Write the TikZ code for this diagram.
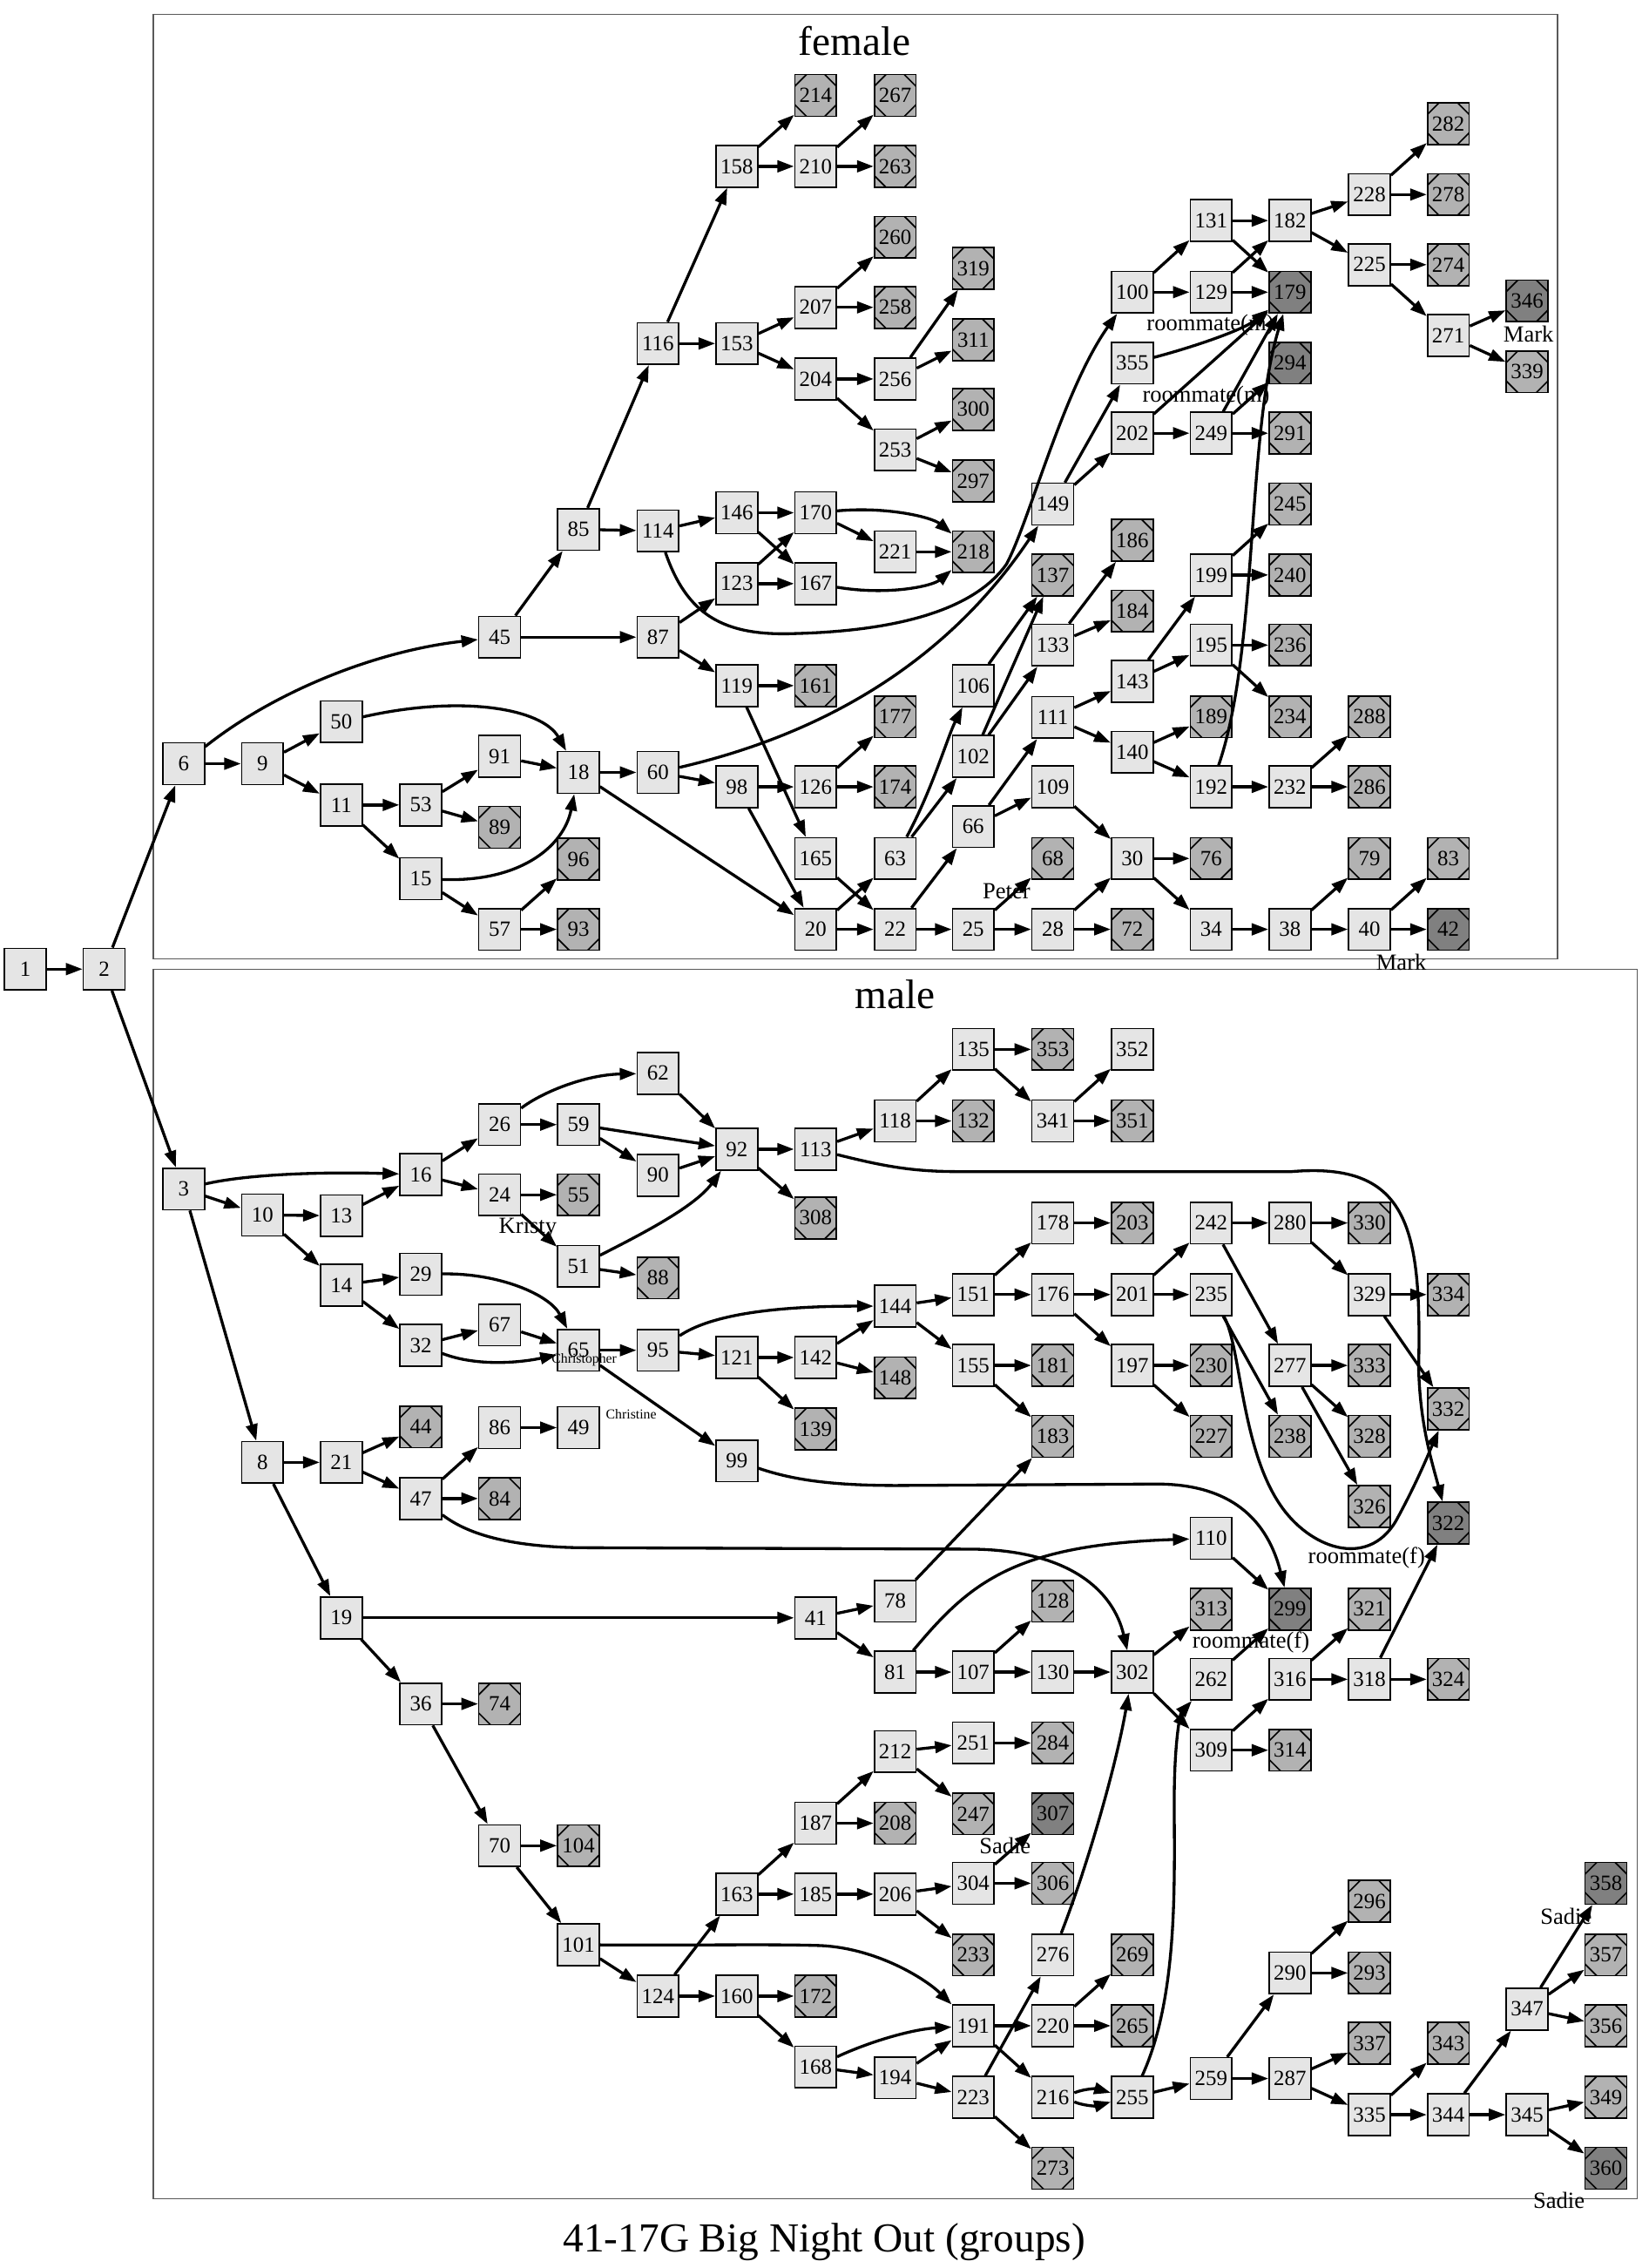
\documentclass[tikz,border=0pt]{standalone}
\usepackage{fontspec}
\setmainfont{Liberation Serif}
\usetikzlibrary{arrows.meta}

\begin{document}
\begin{tikzpicture}[x=1pt, y=-1pt,
    inode/.style={rectangle, draw, line width=1pt, fill=black!10, minimum width=28.8pt, minimum height=28.8pt, inner sep=0pt, font=\fontsize{15}{17}\selectfont},
    leaf/.style={inode, fill=black!30, path picture={
        \draw[line width=1pt] ([xshift=8pt]path picture bounding box.north west) -- ([yshift=-8pt]path picture bounding box.north west);
        \draw[line width=1pt] ([xshift=-8pt]path picture bounding box.north east) -- ([yshift=-8pt]path picture bounding box.north east);
        \draw[line width=1pt] ([xshift=8pt]path picture bounding box.south west) -- ([yshift=8pt]path picture bounding box.south west);
        \draw[line width=1pt] ([xshift=-8pt]path picture bounding box.south east) -- ([yshift=8pt]path picture bounding box.south east);}},
    dleaf/.style={leaf, fill=black!50},
    link/.style={line width=2pt, -{Triangle[length=11.5pt,width=8pt]}},
    cluster/.style={draw=black!65, line width=0.8pt},
    ctitle/.style={font=\fontsize{28.5}{30}\selectfont, anchor=base, inner sep=0pt},
    xlab/.style={font=\fontsize{16}{18}\selectfont, inner sep=0pt},
    smallxlab/.style={font=\fontsize{9.5}{11}\selectfont, inner sep=0pt}
]
    \useasboundingbox (0,0) rectangle (1140,1568);

    % Cluster frames
    \draw[cluster] (106,10) rectangle (1077,663);
    \draw[cluster] (106,670) rectangle (1132,1520);
    \node[ctitle] (tfemale) at (591,38) {female};
    \node[ctitle] (tmale) at (619,697) {male};
    \node[ctitle] (tcaption) at (570,1557) {41-17G Big Night Out (groups)};

    % Root
    \node[inode] (n1) at (17.5,670) {1};
    \node[inode] (n2) at (72,670) {2};

    % Female nodes
    \node[inode] (n6) at (127,528) {6};
    \node[inode] (n9) at (181.5,528) {9};
    \node[inode] (n50) at (236,499) {50};
    \node[inode] (n11) at (236,556.5) {11};
    \node[inode] (n53) at (291,556.5) {53};
    \node[inode] (n15) at (291,607.5) {15};
    \node[inode] (n45) at (345.5,440.5) {45};
    \node[inode] (n91) at (345.5,523) {91};
    \node[leaf] (n89) at (345.5,572) {89};
    \node[inode] (n57) at (345.5,642.5) {57};
    \node[inode] (n85) at (400,366) {85};
    \node[inode] (n18) at (400,534) {18};
    \node[leaf] (n96) at (400,594) {96};
    \node[leaf] (n93) at (400,642.5) {93};
    \node[inode] (n116) at (455,237.5) {116};
    \node[inode] (n114) at (455,367) {114};
    \node[inode] (n87) at (455,440.5) {87};
    \node[inode] (n60) at (455,534) {60};
    \node[inode] (n158) at (509.5,115) {158};
    \node[inode] (n153) at (509.5,237.5) {153};
    \node[inode] (n146) at (509.5,354.5) {146};
    \node[inode] (n123) at (509.5,403.5) {123};
    \node[inode] (n119) at (509.5,474) {119};
    \node[inode] (n98) at (509.5,544) {98};
    \node[leaf] (n214) at (564,66) {214};
    \node[inode] (n210) at (564,115) {210};
    \node[inode] (n207) at (564,212.5) {207};
    \node[inode] (n204) at (564,262) {204};
    \node[inode] (n170) at (564,354.5) {170};
    \node[inode] (n167) at (564,403.5) {167};
    \node[leaf] (n161) at (564,474) {161};
    \node[inode] (n126) at (564,544) {126};
    \node[inode] (n165) at (564,593.5) {165};
    \node[inode] (n20) at (564,642.5) {20};
    \node[leaf] (n267) at (619,66) {267};
    \node[leaf] (n263) at (619,115) {263};
    \node[leaf] (n260) at (619,164) {260};
    \node[leaf] (n258) at (619,212.5) {258};
    \node[inode] (n256) at (619,262) {256};
    \node[inode] (n253) at (619,311) {253};
    \node[inode] (n221) at (619,381.5) {221};
    \node[leaf] (n177) at (619,495.5) {177};
    \node[leaf] (n174) at (619,544) {174};
    \node[inode] (n63) at (619,593.5) {63};
    \node[inode] (n22) at (619,642.5) {22};
    \node[leaf] (n319) at (673,185.5) {319};
    \node[leaf] (n311) at (673,235) {311};
    \node[leaf] (n300) at (673,283) {300};
    \node[leaf] (n297) at (673,332.5) {297};
    \node[leaf] (n218) at (673,381.5) {218};
    \node[inode] (n106) at (673,474) {106};
    \node[inode] (n102) at (673,523) {102};
    \node[inode] (n66) at (673,571.5) {66};
    \node[inode] (n25) at (673,642.5) {25};
    \node[inode] (n149) at (728,348.5) {149};
    \node[leaf] (n137) at (728,397.5) {137};
    \node[inode] (n133) at (728,446) {133};
    \node[inode] (n111) at (728,496) {111};
    \node[inode] (n109) at (728,544) {109};
    \node[leaf] (n68) at (728,593.5) {68};
    \node[inode] (n28) at (728,642.5) {28};
    \node[inode] (n100) at (783,202) {100};
    \node[inode] (n355) at (783,251) {355};
    \node[inode] (n202) at (783,299.5) {202};
    \node[leaf] (n186) at (783,373.5) {186};
    \node[leaf] (n184) at (783,422.5) {184};
    \node[inode] (n143) at (783,471) {143};
    \node[inode] (n140) at (783,520) {140};
    \node[inode] (n30) at (783,593.5) {30};
    \node[leaf] (n72) at (783,642.5) {72};
    \node[inode] (n131) at (837.5,152.5) {131};
    \node[inode] (n129) at (837.5,202) {129};
    \node[inode] (n249) at (837.5,299.5) {249};
    \node[inode] (n199) at (837.5,397.5) {199};
    \node[inode] (n195) at (837.5,446) {195};
    \node[leaf] (n189) at (837.5,495.5) {189};
    \node[inode] (n192) at (837.5,544) {192};
    \node[leaf] (n76) at (837.5,593.5) {76};
    \node[inode] (n34) at (837.5,642.5) {34};
    \node[inode] (n182) at (892,152.5) {182};
    \node[dleaf] (n179) at (892,202) {179};
    \node[dleaf] (n294) at (892,251) {294};
    \node[leaf] (n291) at (892,299.5) {291};
    \node[leaf] (n245) at (892,348.5) {245};
    \node[leaf] (n240) at (892,397.5) {240};
    \node[leaf] (n236) at (892,446) {236};
    \node[leaf] (n234) at (892,495.5) {234};
    \node[inode] (n232) at (892,544) {232};
    \node[inode] (n38) at (892,642.5) {38};
    \node[inode] (n228) at (947,134.5) {228};
    \node[inode] (n225) at (947,183) {225};
    \node[leaf] (n288) at (947,495.5) {288};
    \node[leaf] (n286) at (947,544) {286};
    \node[leaf] (n79) at (947,593.5) {79};
    \node[inode] (n40) at (947,642.5) {40};
    \node[leaf] (n282) at (1001.5,85.5) {282};
    \node[leaf] (n278) at (1001.5,134.5) {278};
    \node[leaf] (n274) at (1001.5,183) {274};
    \node[inode] (n271) at (1001.5,232) {271};
    \node[leaf] (n83) at (1001.5,593.5) {83};
    \node[dleaf] (n42) at (1001.5,642.5) {42};
    \node[dleaf] (n346) at (1056,208) {346};
    \node[leaf] (n339) at (1056,257) {339};

    % Female labels
    \node[xlab] (lpeter) at (696,616) {Peter};
    \node[xlab] (lmark1) at (1057,231) {Mark};
    \node[xlab] (lmark2) at (969,665) {Mark};
    \node[xlab] (lroomm1) at (837,224.5) {roommate(m)};
    \node[xlab] (lroomm2) at (834,274) {roommate(m)};

    % Male nodes
    \node[inode] (n3) at (127,822) {3};
    \node[inode] (n10) at (181.5,840) {10};
    \node[inode] (n8) at (181.5,1011) {8};
    \node[inode] (n13) at (236,840.5) {13};
    \node[inode] (n14) at (236,888.5) {14};
    \node[inode] (n21) at (236,1011) {21};
    \node[inode] (n19) at (236,1118.5) {19};
    \node[inode] (n16) at (291,812) {16};
    \node[inode] (n29) at (291,881) {29};
    \node[inode] (n32) at (291,930) {32};
    \node[leaf] (n44) at (291,986.5) {44};
    \node[inode] (n47) at (291,1036) {47};
    \node[inode] (n36) at (291,1178) {36};
    \node[inode] (n26) at (345.5,777.5) {26};
    \node[inode] (n24) at (345.5,826) {24};
    \node[inode] (n67) at (345.5,916) {67};
    \node[inode] (n86) at (345.5,987) {86};
    \node[leaf] (n84) at (345.5,1036) {84};
    \node[leaf] (n74) at (345.5,1178) {74};
    \node[inode] (n70) at (345.5,1276) {70};
    \node[inode] (n59) at (400,777.5) {59};
    \node[leaf] (n55) at (400,826) {55};
    \node[inode] (n51) at (400,875.5) {51};
    \node[inode] (n65) at (400,933.5) {65};
    \node[inode] (n49) at (400,987) {49};
    \node[leaf] (n104) at (400,1276) {104};
    \node[inode] (n101) at (400,1344.5) {101};
    \node[inode] (n62) at (455,742) {62};
    \node[inode] (n90) at (455,812.5) {90};
    \node[leaf] (n88) at (455,883.5) {88};
    \node[inode] (n95) at (455,933.5) {95};
    \node[inode] (n124) at (455,1380) {124};
    \node[inode] (n92) at (509.5,794.5) {92};
    \node[inode] (n121) at (509.5,938.5) {121};
    \node[inode] (n99) at (509.5,1010) {99};
    \node[inode] (n163) at (509.5,1309.5) {163};
    \node[inode] (n160) at (509.5,1380) {160};
    \node[inode] (n113) at (564,794.5) {113};
    \node[leaf] (n308) at (564,842) {308};
    \node[inode] (n142) at (564,938.5) {142};
    \node[leaf] (n139) at (564,988) {139};
    \node[inode] (n41) at (564,1118.5) {41};
    \node[inode] (n187) at (564,1260.5) {187};
    \node[inode] (n185) at (564,1309.5) {185};
    \node[leaf] (n172) at (564,1380) {172};
    \node[inode] (n168) at (564,1429) {168};
    \node[inode] (n118) at (619,775) {118};
    \node[inode] (n144) at (619,903) {144};
    \node[leaf] (n148) at (619,952.5) {148};
    \node[inode] (n78) at (619,1107) {78};
    \node[inode] (n81) at (619,1156) {81};
    \node[inode] (n212) at (619,1211) {212};
    \node[leaf] (n208) at (619,1260.5) {208};
    \node[inode] (n206) at (619,1309.5) {206};
    \node[inode] (n194) at (619,1436.5) {194};
    \node[inode] (n135) at (673,725.5) {135};
    \node[leaf] (n132) at (673,775) {132};
    \node[inode] (n151) at (673,895) {151};
    \node[inode] (n155) at (673,944) {155};
    \node[inode] (n107) at (673,1156) {107};
    \node[inode] (n251) at (673,1205) {251};
    \node[leaf] (n247) at (673,1254) {247};
    \node[inode] (n304) at (673,1302) {304};
    \node[leaf] (n233) at (673,1351.5) {233};
    \node[inode] (n191) at (673,1400.5) {191};
    \node[inode] (n223) at (673,1450) {223};
    \node[leaf] (n353) at (728,725.5) {353};
    \node[inode] (n341) at (728,775) {341};
    \node[inode] (n178) at (728,845.5) {178};
    \node[inode] (n176) at (728,895) {176};
    \node[leaf] (n181) at (728,944) {181};
    \node[leaf] (n183) at (728,993) {183};
    \node[leaf] (n128) at (728,1107) {128};
    \node[inode] (n130) at (728,1156) {130};
    \node[leaf] (n284) at (728,1205) {284};
    \node[dleaf] (n307) at (728,1254) {307};
    \node[leaf] (n306) at (728,1302) {306};
    \node[inode] (n276) at (728,1351.5) {276};
    \node[inode] (n220) at (728,1400.5) {220};
    \node[inode] (n216) at (728,1450) {216};
    \node[leaf] (n273) at (728,1499) {273};
    \node[inode] (n352) at (783,725.5) {352};
    \node[leaf] (n351) at (783,775) {351};
    \node[leaf] (n203) at (783,845.5) {203};
    \node[inode] (n201) at (783,895) {201};
    \node[inode] (n197) at (783,944) {197};
    \node[inode] (n302) at (783,1156) {302};
    \node[leaf] (n269) at (783,1351.5) {269};
    \node[leaf] (n265) at (783,1400.5) {265};
    \node[inode] (n255) at (783,1450) {255};
    \node[inode] (n242) at (837.5,845.5) {242};
    \node[inode] (n235) at (837.5,895) {235};
    \node[leaf] (n230) at (837.5,944) {230};
    \node[leaf] (n227) at (837.5,993) {227};
    \node[inode] (n110) at (837.5,1063.5) {110};
    \node[leaf] (n313) at (837.5,1112.5) {313};
    \node[inode] (n262) at (837.5,1161) {262};
    \node[inode] (n309) at (837.5,1210) {309};
    \node[inode] (n259) at (837.5,1437) {259};
    \node[inode] (n280) at (892,845.5) {280};
    \node[inode] (n277) at (892,944) {277};
    \node[leaf] (n238) at (892,993) {238};
    \node[dleaf] (n299) at (892,1112.5) {299};
    \node[inode] (n316) at (892,1161) {316};
    \node[leaf] (n314) at (892,1210) {314};
    \node[inode] (n290) at (892,1364) {290};
    \node[inode] (n287) at (892,1437) {287};
    \node[leaf] (n330) at (947,845.5) {330};
    \node[inode] (n329) at (947,895) {329};
    \node[leaf] (n333) at (947,944) {333};
    \node[leaf] (n328) at (947,993) {328};
    \node[leaf] (n326) at (947,1041.5) {326};
    \node[leaf] (n321) at (947,1112.5) {321};
    \node[inode] (n318) at (947,1161) {318};
    \node[leaf] (n296) at (947,1314.5) {296};
    \node[leaf] (n293) at (947,1364) {293};
    \node[leaf] (n337) at (947,1412.5) {337};
    \node[inode] (n335) at (947,1462) {335};
    \node[leaf] (n334) at (1001.5,895) {334};
    \node[leaf] (n332) at (1001.5,974) {332};
    \node[dleaf] (n322) at (1001.5,1053) {322};
    \node[leaf] (n324) at (1001.5,1161) {324};
    \node[leaf] (n343) at (1001.5,1412.5) {343};
    \node[inode] (n344) at (1001.5,1462) {344};
    \node[inode] (n347) at (1056,1389) {347};
    \node[inode] (n345) at (1056,1462) {345};
    \node[dleaf] (n358) at (1110.5,1302) {358};
    \node[leaf] (n357) at (1110.5,1351.5) {357};
    \node[leaf] (n356) at (1110.5,1400.5) {356};
    \node[leaf] (n349) at (1110.5,1450) {349};
    \node[dleaf] (n360) at (1110.5,1499) {360};

    % Male labels
    \node[xlab] (lkristy) at (365,849) {Kristy};
    \node[smallxlab] (lchristopher) at (404,940) {Christopher};
    \node[smallxlab] (lchristine) at (436.5,977.5) {Christine};
    \node[xlab] (lroomf1) at (945,1077) {roommate(f)};
    \node[xlab] (lroomf2) at (865,1135.5) {roommate(f)};
    \node[xlab] (lsadie1) at (695,1276) {Sadie};
    \node[xlab] (lsadie2) at (1083,1325) {Sadie};
    \node[xlab] (lsadie3) at (1078,1521) {Sadie};

    % Connections — root
    \draw[link] (n1) -- (n2);
    \draw[link] (n2) -- (n6);
    \draw[link] (n2) -- (n3);

    % Connections — female
    \draw[link] (n6) -- (n9);
    \draw[link] (n6) .. controls (190,478) and (260,450) .. (n45);
    \draw[link] (n9) -- (n50);
    \draw[link] (n9) -- (n11);
    \draw[link] (n50) .. controls (320,480) and (375,490) .. (n18);
    \draw[link] (n11) -- (n53);
    \draw[link] (n11) -- (n15);
    \draw[link] (n53) -- (n91);
    \draw[link] (n53) -- (n89);
    \draw[link] (n15) .. controls (360,610) and (390,585) .. (n18);
    \draw[link] (n15) -- (n57);
    \draw[link] (n57) -- (n96);
    \draw[link] (n57) -- (n93);
    \draw[link] (n91) -- (n18);
    \draw[link] (n18) -- (n60);
    \draw[link] (n18) -- (n20);
    \draw[link] (n45) -- (n85);
    \draw[link] (n45) -- (n87);
    \draw[link] (n85) -- (n116);
    \draw[link] (n85) -- (n114);
    \draw[link] (n116) -- (n158);
    \draw[link] (n116) -- (n153);
    \draw[link] (n158) -- (n214);
    \draw[link] (n158) -- (n210);
    \draw[link] (n210) -- (n267);
    \draw[link] (n210) -- (n263);
    \draw[link] (n153) -- (n207);
    \draw[link] (n153) -- (n204);
    \draw[link] (n207) -- (n260);
    \draw[link] (n207) -- (n258);
    \draw[link] (n204) -- (n256);
    \draw[link] (n204) -- (n253);
    \draw[link] (n256) -- (n319);
    \draw[link] (n256) -- (n311);
    \draw[link] (n253) -- (n300);
    \draw[link] (n253) -- (n297);
    \draw[link] (n114) -- (n146);
    \draw[link] (n114) .. controls (475,425) and (500,440) .. (550,438) .. controls (625,436) and (675,420) .. (696,390) .. controls (712,360) and (735,270) .. (n100);
    \draw[link] (n146) -- (n170);
    \draw[link] (n146) -- (n167);
    \draw[link] (n87) -- (n123);
    \draw[link] (n87) -- (n119);
    \draw[link] (n123) -- (n170);
    \draw[link] (n123) -- (n167);
    \draw[link] (n170) -- (n221);
    \draw[link] (n170) .. controls (615,350) and (645,358) .. (n218);
    \draw[link] (n221) -- (n218);
    \draw[link] (n167) .. controls (615,412) and (645,405) .. (n218);
    \draw[link] (n119) -- (n161);
    \draw[link] (n119) -- (n165);
    \draw[link] (n60) -- (n98);
    \draw[link] (n60) .. controls (580,505) and (660,450) .. (n149);
    \draw[link] (n98) -- (n126);
    \draw[link] (n98) -- (n20);
    \draw[link] (n126) -- (n177);
    \draw[link] (n126) -- (n174);
    \draw[link] (n165) -- (n22);
    \draw[link] (n20) -- (n22);
    \draw[link] (n20) -- (n63);
    \draw[link] (n22) -- (n25);
    \draw[link] (n22) -- (n66);
    \draw[link] (n63) .. controls (645,545) and (655,510) .. (n106);
    \draw[link] (n63) -- (n102);
    \draw[link] (n106) -- (n137);
    \draw[link] (n102) -- (n137);
    \draw[link] (n102) -- (n133);
    \draw[link] (n133) -- (n186);
    \draw[link] (n133) -- (n184);
    \draw[link] (n66) -- (n111);
    \draw[link] (n66) -- (n109);
    \draw[link] (n111) -- (n143);
    \draw[link] (n111) -- (n140);
    \draw[link] (n143) -- (n199);
    \draw[link] (n143) -- (n195);
    \draw[link] (n199) -- (n245);
    \draw[link] (n199) -- (n240);
    \draw[link] (n195) -- (n236);
    \draw[link] (n195) -- (n234);
    \draw[link] (n140) -- (n189);
    \draw[link] (n140) -- (n192);
    \draw[link] (n192) -- (n232);
    \draw[link] (n192) .. controls (870,450) and (862,300) .. (n179);
    \draw[link] (n232) -- (n288);
    \draw[link] (n232) -- (n286);
    \draw[link] (n109) -- (n30);
    \draw[link] (n25) -- (n68);
    \draw[link] (n25) -- (n28);
    \draw[link] (n28) -- (n30);
    \draw[link] (n28) -- (n72);
    \draw[link] (n30) -- (n76);
    \draw[link] (n30) -- (n34);
    \draw[link] (n34) -- (n38);
    \draw[link] (n38) -- (n79);
    \draw[link] (n38) -- (n40);
    \draw[link] (n40) -- (n83);
    \draw[link] (n40) -- (n42);
    \draw[link] (n149) -- (n355);
    \draw[link] (n149) -- (n202);
    \draw[link] (n100) -- (n131);
    \draw[link] (n100) -- (n129);
    \draw[link] (n131) -- (n182);
    \draw[link] (n131) -- (n179);
    \draw[link] (n129) -- (n182);
    \draw[link] (n129) -- (n179);
    \draw[link] (n355) .. controls (825,240) and (860,228) .. (n179);
    \draw[link] (n202) -- (n179);
    \draw[link] (n202) -- (n249);
    \draw[link] (n249) -- (n179);
    \draw[link] (n249) -- (n294);
    \draw[link] (n249) -- (n291);
    \draw[link] (n182) -- (n228);
    \draw[link] (n182) -- (n225);
    \draw[link] (n228) -- (n282);
    \draw[link] (n228) -- (n278);
    \draw[link] (n225) -- (n274);
    \draw[link] (n225) -- (n271);
    \draw[link] (n271) -- (n346);
    \draw[link] (n271) -- (n339);

    % Connections — male
    \draw[link] (n3) .. controls (170,812) and (220,810) .. (n16);
    \draw[link] (n3) -- (n10);
    \draw[link] (n3) -- (n8);
    \draw[link] (n10) -- (n13);
    \draw[link] (n10) -- (n14);
    \draw[link] (n13) -- (n16);
    \draw[link] (n16) -- (n26);
    \draw[link] (n16) -- (n24);
    \draw[link] (n26) .. controls (375,755) and (405,743) .. (n62);
    \draw[link] (n26) -- (n59);
    \draw[link] (n59) -- (n92);
    \draw[link] (n59) -- (n90);
    \draw[link] (n90) -- (n92);
    \draw[link] (n62) -- (n92);
    \draw[link] (n24) -- (n55);
    \draw[link] (n24) -- (n51);
    \draw[link] (n51) .. controls (440,855) and (480,835) .. (n92);
    \draw[link] (n51) -- (n88);
    \draw[link] (n92) -- (n113);
    \draw[link] (n92) -- (n308);
    \draw[link] (n113) -- (n118);
    \draw[link] (n113) .. controls (610,806) and (630,810) .. (663,810) -- (893,810) .. controls (975,803) and (983,850) .. (981,946) .. controls (982,985) and (990,1010) .. (n322);
    \draw[link] (n118) -- (n135);
    \draw[link] (n118) -- (n132);
    \draw[link] (n135) -- (n353);
    \draw[link] (n135) -- (n341);
    \draw[link] (n341) -- (n352);
    \draw[link] (n341) -- (n351);
    \draw[link] (n14) -- (n29);
    \draw[link] (n14) -- (n32);
    \draw[link] (n29) .. controls (345,880) and (380,895) .. (n65);
    \draw[link] (n32) -- (n67);
    \draw[link] (n32) .. controls (330,945) and (360,942) .. (n65);
    \draw[link] (n67) -- (n65);
    \draw[link] (n65) -- (n95);
    \draw[link] (n65) -- (n99);
    \draw[link] (n95) -- (n121);
    \draw[link] (n95) .. controls (490,910) and (530,903) .. (n144);
    \draw[link] (n121) -- (n142);
    \draw[link] (n121) -- (n139);
    \draw[link] (n142) -- (n144);
    \draw[link] (n142) -- (n148);
    \draw[link] (n144) -- (n151);
    \draw[link] (n144) -- (n155);
    \draw[link] (n151) -- (n178);
    \draw[link] (n151) -- (n176);
    \draw[link] (n155) -- (n181);
    \draw[link] (n155) -- (n183);
    \draw[link] (n178) -- (n203);
    \draw[link] (n176) -- (n201);
    \draw[link] (n176) -- (n197);
    \draw[link] (n201) -- (n242);
    \draw[link] (n201) -- (n235);
    \draw[link] (n197) -- (n230);
    \draw[link] (n197) -- (n227);
    \draw[link] (n242) -- (n280);
    \draw[link] (n242) -- (n277);
    \draw[link] (n235) -- (n238);
    \draw[link] (n235) .. controls (858,930) and (858,1000) .. (885,1040) .. controls (905,1070) and (945,1085) .. (965,1052) .. controls (980,1025) and (990,1000) .. (n332);
    \draw[link] (n280) -- (n330);
    \draw[link] (n280) -- (n329);
    \draw[link] (n329) -- (n334);
    \draw[link] (n329) -- (n332);
    \draw[link] (n277) -- (n333);
    \draw[link] (n277) -- (n328);
    \draw[link] (n277) -- (n326);
    \draw[link] (n99) .. controls (545,1022) and (570,1027) .. (620,1027) -- (800,1026) .. controls (845,1026) and (875,1045) .. (n299);
    \draw[link] (n8) -- (n21);
    \draw[link] (n8) -- (n19);
    \draw[link] (n21) -- (n44);
    \draw[link] (n21) -- (n47);
    \draw[link] (n47) -- (n86);
    \draw[link] (n47) -- (n84);
    \draw[link] (n47) .. controls (320,1058) and (345,1069) .. (400,1070) -- (673,1071) .. controls (740,1072) and (770,1100) .. (n302);
    \draw[link] (n86) -- (n49);
    \draw[link] (n19) -- (n41);
    \draw[link] (n19) -- (n36);
    \draw[link] (n41) -- (n78);
    \draw[link] (n41) -- (n81);
    \draw[link] (n78) -- (n183);
    \draw[link] (n81) .. controls (670,1095) and (700,1068) .. (n110);
    \draw[link] (n81) -- (n107);
    \draw[link] (n110) -- (n299);
    \draw[link] (n107) -- (n128);
    \draw[link] (n107) -- (n130);
    \draw[link] (n130) -- (n302);
    \draw[link] (n302) -- (n313);
    \draw[link] (n302) -- (n309);
    \draw[link] (n309) -- (n316);
    \draw[link] (n309) -- (n314);
    \draw[link] (n316) -- (n321);
    \draw[link] (n316) -- (n318);
    \draw[link] (n318) -- (n324);
    \draw[link] (n318) -- (n322);
    \draw[link] (n262) -- (n299);
    \draw[link] (n36) -- (n74);
    \draw[link] (n36) -- (n70);
    \draw[link] (n70) -- (n104);
    \draw[link] (n70) -- (n101);
    \draw[link] (n101) -- (n124);
    \draw[link] (n101) .. controls (480,1345) and (530,1344) .. (565,1345) .. controls (605,1346) and (640,1368) .. (n191);
    \draw[link] (n124) -- (n163);
    \draw[link] (n124) -- (n160);
    \draw[link] (n163) -- (n187);
    \draw[link] (n163) -- (n185);
    \draw[link] (n187) -- (n212);
    \draw[link] (n187) -- (n208);
    \draw[link] (n212) -- (n251);
    \draw[link] (n212) -- (n247);
    \draw[link] (n251) -- (n284);
    \draw[link] (n185) -- (n206);
    \draw[link] (n206) -- (n304);
    \draw[link] (n206) -- (n233);
    \draw[link] (n304) -- (n307);
    \draw[link] (n304) -- (n306);
    \draw[link] (n160) -- (n172);
    \draw[link] (n160) -- (n168);
    \draw[link] (n168) .. controls (600,1412) and (630,1403) .. (n191);
    \draw[link] (n168) -- (n194);
    \draw[link] (n194) -- (n191);
    \draw[link] (n194) -- (n223);
    \draw[link] (n191) -- (n220);
    \draw[link] (n191) -- (n216);
    \draw[link] (n223) -- (n276);
    \draw[link] (n223) -- (n273);
    \draw[link] (n276) .. controls (752,1290) and (772,1220) .. (n302);
    \draw[link] (n220) -- (n269);
    \draw[link] (n220) -- (n265);
    \draw[link] (n216.12) .. controls (750,1444) and (758,1444) .. (n255.168);
    \draw[link] (n216.-12) .. controls (750,1456) and (758,1456) .. (n255.-168);
    \draw[link] (n255) .. controls (815,1380) and (812,1300) .. (812,1245) .. controls (812,1205) and (816,1185) .. (n262);
    \draw[link] (n255) -- (n259);
    \draw[link] (n259) -- (n290);
    \draw[link] (n259) -- (n287);
    \draw[link] (n290) -- (n296);
    \draw[link] (n290) -- (n293);
    \draw[link] (n287) -- (n337);
    \draw[link] (n287) -- (n335);
    \draw[link] (n335) -- (n343);
    \draw[link] (n335) -- (n344);
    \draw[link] (n344) -- (n347);
    \draw[link] (n344) -- (n345);
    \draw[link] (n347) -- (n358);
    \draw[link] (n347) -- (n357);
    \draw[link] (n347) -- (n356);
    \draw[link] (n345) -- (n349);
    \draw[link] (n345) -- (n360);
\end{tikzpicture}
\end{document}
